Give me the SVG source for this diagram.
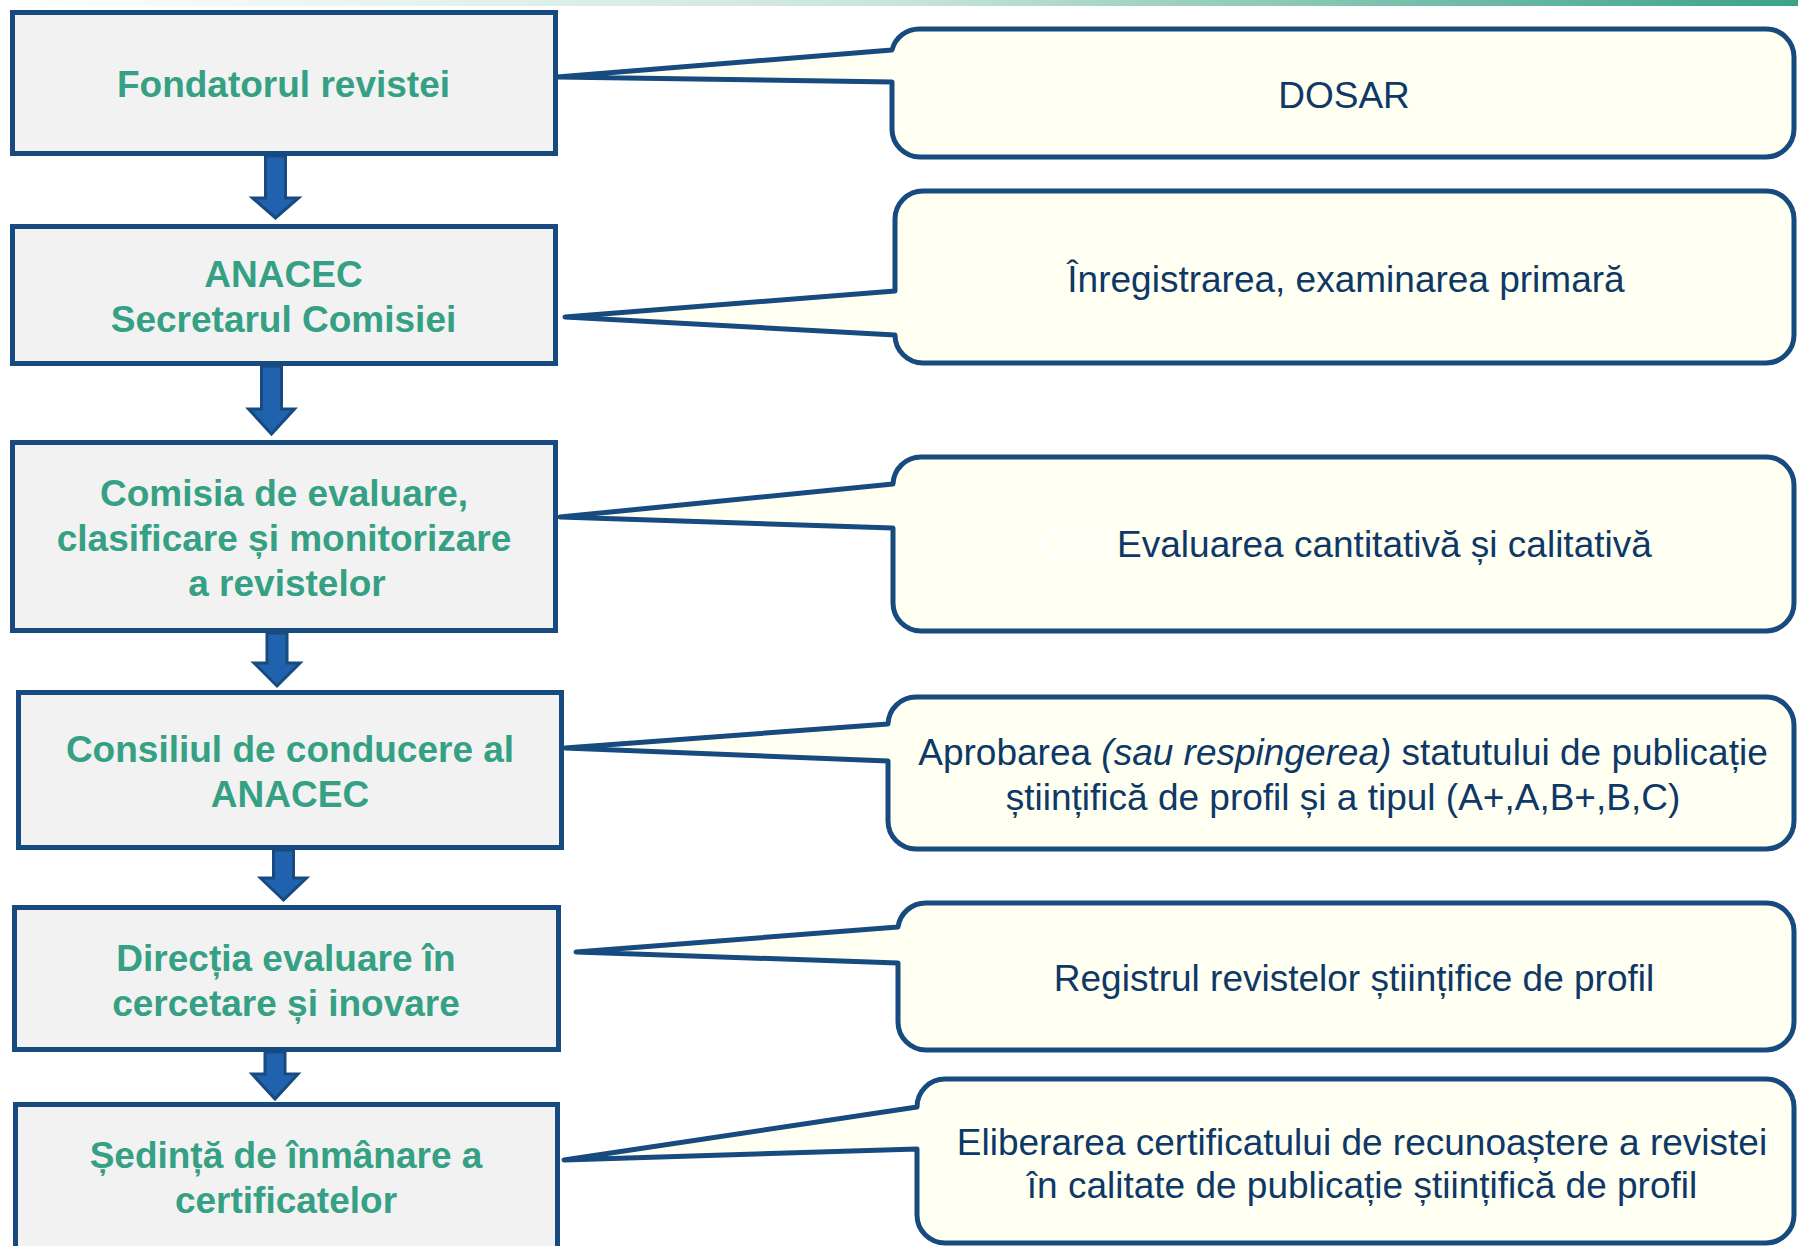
<svg xmlns="http://www.w3.org/2000/svg" width="1798" height="1246" viewBox="0 0 1798 1246">
<defs>
<linearGradient id="topbar" x1="0" y1="0" x2="1" y2="0">
<stop offset="0" stop-color="#ffffff"/>
<stop offset="0.5" stop-color="#c9e4de"/>
<stop offset="1" stop-color="#3aa386"/>
</linearGradient>
</defs>
<style>
.box{fill:#f2f2f2;stroke:#174a7e;stroke-width:5;stroke-linejoin:miter}
.btxt{font-family:"Liberation Sans",Arial,sans-serif;font-weight:bold;font-size:37px;fill:#35a084;text-anchor:middle}
.call{fill:#fffff2;stroke:#174a7e;stroke-width:5;stroke-linejoin:round}
.ctxt{font-family:"Liberation Sans",Arial,sans-serif;font-size:37px;fill:#0e3866;text-anchor:middle}
.arr{fill:#2062ae;stroke:#174a7e;stroke-width:3;stroke-linejoin:miter}
</style>
<rect x="0" y="0" width="1798" height="6" fill="url(#topbar)"/>

<g id="callouts">
<g id="c1">
<path class="call" d="M892,50 A28,28 0 0 1 920,29 H1766 A28,28 0 0 1 1794,57 V129 A28,28 0 0 1 1766,157 H920 A28,28 0 0 1 892,129 V82 L557,77 Z"/>
<text class="ctxt" x="1344" y="108">DOSAR</text>
</g>
<g id="c2">
<path class="call" d="M895,291 V219 A28,28 0 0 1 923,191 H1766 A28,28 0 0 1 1794,219 V335 A28,28 0 0 1 1766,363 H923 A28,28 0 0 1 895,335 L565,317 Z"/>
<text class="ctxt" x="1346" y="292">Înregistrarea, examinarea primară</text>
</g>
<g id="c3">
<path class="call" d="M893,484 A28,28 0 0 1 921,457 H1766 A28,28 0 0 1 1794,485 V603 A28,28 0 0 1 1766,631 H921 A28,28 0 0 1 893,603 V528 L560,517 Z"/>
<text class="ctxt" x="1041" y="557" style="text-anchor:start"><tspan fill="#ffffff">CEE</tspan><tspan>Evaluarea cantitativă și calitativă</tspan></text>
</g>
<g id="c4">
<path class="call" d="M888,724 A28,28 0 0 1 916,697 H1766 A28,28 0 0 1 1794,725 V821 A28,28 0 0 1 1766,849 H916 A28,28 0 0 1 888,821 V761 L565,748 Z"/>
<text class="ctxt" x="1343" y="765">Aprobarea <tspan font-style="italic">(sau respingerea)</tspan> statutului de publicație</text>
<text class="ctxt" x="1343" y="810">științifică de profil și a tipul (A+,A,B+,B,C)</text>
</g>
<g id="c5">
<path class="call" d="M898,927 A28,28 0 0 1 926,903 H1766 A28,28 0 0 1 1794,931 V1022 A28,28 0 0 1 1766,1050 H926 A28,28 0 0 1 898,1022 V963 L576,952 Z"/>
<text class="ctxt" x="1354" y="991">Registrul revistelor științifice de profil</text>
</g>
<g id="c6">
<path class="call" d="M917,1107 A28,28 0 0 1 945,1079 H1766 A28,28 0 0 1 1794,1107 V1215 A28,28 0 0 1 1766,1243 H945 A28,28 0 0 1 917,1215 V1149 L564,1160 Z"/>
<text class="ctxt" x="1362" y="1155">Eliberarea certificatului de recunoaștere a revistei</text>
<text class="ctxt" x="1362" y="1198">în calitate de publicație științifică de profil</text>
</g>
</g>

<g id="n1">
<rect class="box" x="12.5" y="12.5" width="543" height="141"/>
<text class="btxt" x="283.5" y="97">Fondatorul revistei</text>
</g>
<g id="n2">
<rect class="box" x="12.5" y="226.5" width="543" height="137"/>
<text class="btxt" x="283.5" y="287">ANACEC</text>
<text class="btxt" x="283.5" y="332">Secretarul Comisiei</text>
</g>
<g id="n3">
<rect class="box" x="12.5" y="442.5" width="543" height="188"/>
<text class="btxt" x="284" y="506">Comisia de evaluare,</text>
<text class="btxt" x="284" y="551">clasificare și monitorizare</text>
<text class="btxt" x="287" y="596">a revistelor</text>
</g>
<g id="n4">
<rect class="box" x="18.5" y="692.5" width="543" height="155"/>
<text class="btxt" x="290" y="762">Consiliul de conducere al</text>
<text class="btxt" x="290" y="807">ANACEC</text>
</g>
<g id="n5">
<rect class="box" x="14.5" y="907.5" width="544" height="142"/>
<text class="btxt" x="286" y="971">Direcția evaluare în</text>
<text class="btxt" x="286" y="1016">cercetare și inovare</text>
</g>
<g id="n6">
<rect class="box" x="15.5" y="1104.5" width="542" height="200"/>
<text class="btxt" x="286" y="1168">Ședință de înmânare a</text>
<text class="btxt" x="286" y="1213">certificatelor</text>
</g>

<g id="connectors">
<path class="arr" d="M265.5,156 H285.5 V198 H298.5 L275.5,218 L252.5,198 H265.5 Z"/>
<path class="arr" d="M261.5,366 H281.5 V409 H294.5 L271.5,434 L248.5,409 H261.5 Z"/>
<path class="arr" d="M267,633 H287 V663 H300 L277,686 L254,663 H267 Z"/>
<path class="arr" d="M273.5,850 H293.5 V878 H306.5 L283.5,900 L260.5,878 H273.5 Z"/>
<path class="arr" d="M265,1052 H285 V1074 H298 L275,1099 L252,1074 H265 Z"/>
</g>
</svg>
